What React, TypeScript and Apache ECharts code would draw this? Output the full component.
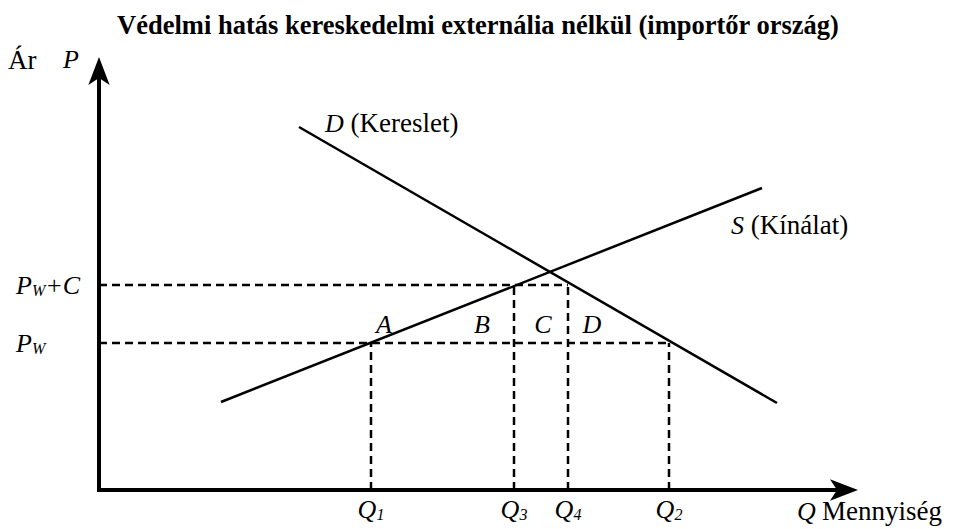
import React, { useEffect, useRef } from "react";
import * as echarts from "echarts";

// Axis units: origin at the corner of the axes, one unit per screen pixel.
const X_MAX = 747;
const Y_MAX = 421;

// Curves (two end points each)
const demandLine: [number, number][] = [[200, 363], [678, 87]];
const supplyLine: [number, number][] = [[122, 88], [663, 302]];

// Price levels
const priceLevels = [147, 205]; // P_W, P_W + C
const priceLabels = ["{p|P}{s|W}", "{p|P}{s|W}{p|+C}"];

// Quantities
const quantities = [272, 415, 469, 570]; // Q1, Q3, Q4, Q2
const quantityLabels = ["{q|Q}{s|1}", "{q|Q}{s|3}", "{q|Q}{s|4}", "{q|Q}{s|2}"];

// Area letters between the price levels
const areaNames = ["A", "B", "C", "D"];
const areaX = [285, 383, 444, 493];
const areaY = 166;

// Curve captions
const curveCaptions = ["{i|D} (Kereslet)", "{i|S} (Kínálat)"];
const curveCaptionPos: [number, number][] = [[226, 367], [632, 265]];

const FONT = "Liberation Serif, Times New Roman, serif";
const MAIN = 26;
const SUB = 16;

// Dashed guide segments: price lines to the curves, quantity drops to the axis
const guideSegments: [number, number][][] = [
  [[0, priceLevels[0]], [quantities[3], priceLevels[0]]],
  [[0, priceLevels[1]], [quantities[2], priceLevels[1]]],
  [[quantities[0], 0], [quantities[0], priceLevels[0]]],
  [[quantities[1], 0], [quantities[1], priceLevels[1]]],
  [[quantities[2], 0], [quantities[2], priceLevels[1]]],
  [[quantities[3], 0], [quantities[3], priceLevels[0]]],
];

export default function App() {
  const ref = useRef<HTMLDivElement>(null);

  useEffect(() => {
    if (!ref.current) return;
    const chart = echarts.init(ref.current, null, { renderer: "svg" });

    const subStyle = {
      fontFamily: FONT,
      fontStyle: "italic",
      fontSize: SUB,
      color: "#000",
      verticalAlign: "bottom",
      lineHeight: 17,
    };

    const solid = { color: "#000", width: 2.5, type: "solid" as const };
    const dashed = { color: "#000", width: 2.5, type: [8, 5] as any };

    const axisLine = {
      show: true,
      symbol: ["none", "arrow"],
      symbolSize: [16, 28],
      symbolOffset: [0, 12],
      lineStyle: { color: "#000", width: 4, cap: "square" },
    };

    const option: any = {
      animation: false,
      backgroundColor: "#fff",
      title: {
        text: "Védelmi hatás kereskedelmi externália nélkül (importőr ország)",
        left: "center",
        top: 6,
        textStyle: {
          fontFamily: FONT,
          fontWeight: "bold",
          fontSize: 26.5,
          color: "#000",
        },
      },
      grid: { left: 99, top: 69, right: 110, bottom: 39 },
      xAxis: {
        type: "value",
        min: 0,
        max: X_MAX,
        splitLine: { show: false },
        axisTick: { show: false },
        axisLine,
        axisLabel: {
          customValues: quantities,
          margin: 6,
          formatter: (v: number) => quantityLabels[quantities.indexOf(v)] ?? "",
          rich: {
            q: { fontFamily: FONT, fontStyle: "italic", fontSize: MAIN, color: "#000", lineHeight: 26 },
            s: subStyle,
          },
        },
      },
      yAxis: {
        type: "value",
        min: 0,
        max: Y_MAX,
        splitLine: { show: false },
        axisTick: { show: false },
        axisLine,
        axisLabel: {
          customValues: priceLevels,
          margin: 83,
          align: "left",
          formatter: (v: number) => priceLabels[priceLevels.indexOf(v)] ?? "",
          rich: {
            p: { fontFamily: FONT, fontStyle: "italic", fontSize: MAIN, color: "#000", lineHeight: 26 },
            s: subStyle,
          },
        },
      },
      graphic: [
        {
          type: "text",
          left: 8,
          top: 46,
          style: { text: "Ár", font: `27px ${FONT}`, fill: "#000" },
        },
        {
          type: "text",
          left: 63,
          top: 46,
          style: { text: "P", font: `italic ${MAIN}px ${FONT}`, fill: "#000" },
        },
        {
          type: "text",
          left: 797,
          top: 498,
          style: { text: "Q", font: `italic ${MAIN}px ${FONT}`, fill: "#000" },
        },
        {
          type: "text",
          left: 822,
          top: 497,
          style: { text: "Mennyiség", font: `27px ${FONT}`, fill: "#000" },
        },
      ],
      series: [
        {
          type: "line",
          data: demandLine,
          symbol: "none",
          lineStyle: solid,
          silent: true,
        },
        {
          type: "line",
          data: supplyLine,
          symbol: "none",
          lineStyle: solid,
          silent: true,
        },
        ...guideSegments.map((seg) => ({
          type: "line",
          data: seg,
          symbol: "none",
          lineStyle: dashed,
          silent: true,
        })),
        {
          type: "scatter",
          symbolSize: 0,
          silent: true,
          itemStyle: { opacity: 1 },
          data: areaNames.map((n, i) => ({ name: n, value: [areaX[i], areaY] })),
          label: {
            show: true,
            position: "inside",
            formatter: (p: any) => p.name,
            fontFamily: FONT,
            fontStyle: "italic",
            fontSize: MAIN,
            color: "#000",
            textBorderWidth: 0,
          },
        },
        {
          type: "scatter",
          symbolSize: 0,
          silent: true,
          itemStyle: { opacity: 1 },
          data: curveCaptions.map((c, i) => ({ name: c, value: curveCaptionPos[i] })),
          label: {
            show: true,
            position: "right",
            distance: 0,
            formatter: (p: any) => p.name,
            fontFamily: FONT,
            fontSize: 27,
            color: "#000",
            textBorderWidth: 0,
            rich: {
              i: { fontFamily: FONT, fontStyle: "italic", fontSize: MAIN, color: "#000" },
            },
          },
        },
      ],
    };

    chart.setOption(option);
    return () => chart.dispose();
  }, []);

  return (
    <div
      ref={ref}
      style={{ position: "fixed", left: 0, top: 0, width: 956, height: 529 }}
    />
  );
}
